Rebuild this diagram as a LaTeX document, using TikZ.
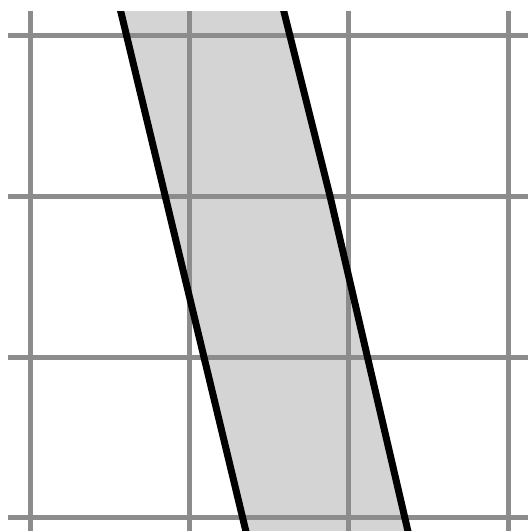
\documentclass[tikz,border=0pt]{standalone}
\begin{document}
\begin{tikzpicture}[x=1pt,y=-1pt,
  gridline/.style={draw=gray!90!white,line width=5pt},
  edgeline/.style={draw=black,line width=7pt},
  bandfill/.style={fill=black!17}]
\useasboundingbox (0,0) rectangle (528,531);
\begin{scope}
\clip (0,11) rectangle (528,531);
% band corners
\coordinate (lt) at (118,0);
\coordinate (lb) at (248,540);
\coordinate (rt) at (281,0);
\coordinate (rm) at (330,196);
\coordinate (rb) at (410,540);
\fill[bandfill] (lt) -- (lb) -- (rb) -- (rm) -- (rt) -- cycle;
% grid
\foreach \x in {30,189,348,508} \draw[gridline] (\x,11) -- (\x,531);
\foreach \y in {35,196,357,517} \draw[gridline] (8,\y) -- (528,\y);
% edges
\draw[edgeline] (lt) -- (lb);
\draw[edgeline] (rt) -- (rm) -- (rb);
\end{scope}
\end{tikzpicture}
\end{document}
